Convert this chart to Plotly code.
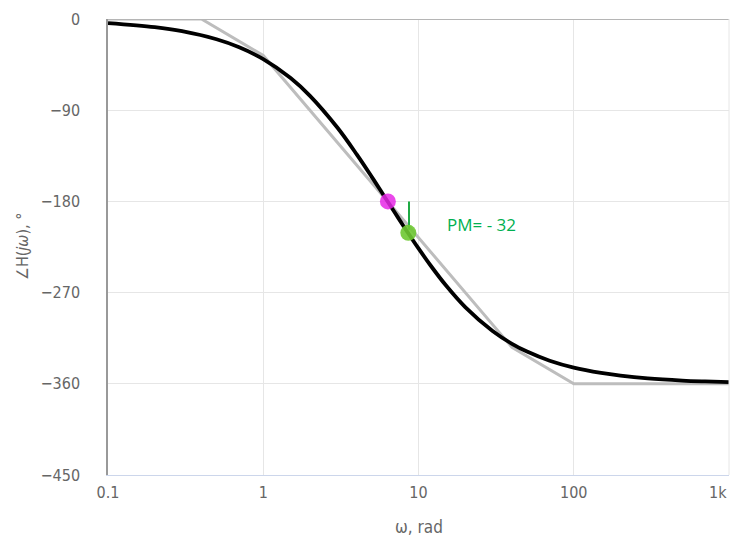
import plotly.graph_objects as go

# Phase response
omega = [0.1, 0.2, 0.3, 0.5, 0.7, 1, 1.5, 2, 3, 4, 5, 6, 7, 8, 10, 12, 15, 20, 30, 40, 50, 70, 100, 150, 200, 300, 500, 700, 1000]
phase = [-4.0, -8.0, -12.0, -20.0, -27.9, -39.5, -58.2, -75.8, -107.1, -133.6, -155.8, -174.6, -190.5, -204.2, -226.4, -243.5, -262.8, -284.3, -307.9, -320.5, -328.2, -337.2, -344.0, -349.3, -352.0, -354.7, -356.8, -357.7, -358.4]

# Straight-line asymptote
asym_omega = [0.1, 0.4, 1, 40, 100, 1000]
asym_phase = [0, 0, -36, -324, -360, -360]

# Markers
phase_cross_w = [6.35]
phase_cross_p = [-180]
gain_cross_w = [8.6]
gain_cross_p = [-211]
pm_label = "PM= - 32"

y_ticks = [0, -90, -180, -270, -360, -450]
y_ticklabels = ["0", "−90", "−180", "−270", "−360", "−450"]
x_ticks = [0.1, 1, 10, 100, 1000]
x_ticklabels = ["0.1", "1", "10", "100", "1k"]

font_family = "Liberation Sans Narrow, DejaVu Sans Condensed, Roboto, sans-serif"

fig = go.Figure()
fig.add_trace(go.Scatter(x=asym_omega, y=asym_phase, mode="lines",
                         line=dict(color="#bdbdbd", width=3), hoverinfo="skip"))
fig.add_trace(go.Scatter(x=omega, y=phase, mode="lines",
                         line=dict(color="#000000", width=3.8, shape="spline"), hoverinfo="skip"))
# PM vertical line
fig.add_trace(go.Scatter(x=[gain_cross_w[0] * 1.01, gain_cross_w[0] * 1.01], y=[phase_cross_p[0], gain_cross_p[0] + 3],
                         mode="lines", line=dict(color="#1faa44", width=2), hoverinfo="skip"))
fig.add_trace(go.Scatter(x=phase_cross_w, y=phase_cross_p, mode="markers",
                         marker=dict(color="rgba(230,40,230,0.85)", size=16, line=dict(width=0)), hoverinfo="skip"))
fig.add_trace(go.Scatter(x=gain_cross_w, y=gain_cross_p, mode="markers",
                         marker=dict(color="rgba(110,200,50,0.9)", size=16, line=dict(width=0)), hoverinfo="skip"))

fig.add_annotation(x=1.17, y=-203, xref="x", yref="y", text=pm_label, showarrow=False,
                   xanchor="left", yanchor="middle",
                   font=dict(family="Open Sans, sans-serif", size=17, color="#00b050"))

# top border line
fig.add_shape(type="line", xref="paper", yref="y", x0=0, x1=1, y0=0, y1=0,
              line=dict(color="#b5b5b5", width=2))

fig.add_annotation(x=-86 / 621, y=0.5, xref="paper", yref="paper",
                   text="∠H(<i>jω</i>), °", textangle=-90, showarrow=False,
                   xanchor="center", yanchor="middle",
                   font=dict(family=font_family, size=16, color="#666666"))

fig.add_annotation(x=0.5, y=-(527 - 475) / 456, xref="paper", yref="paper",
                   text="ω, rad", showarrow=False,
                   xanchor="center", yanchor="middle",
                   font=dict(family=font_family, size=17, color="#666666"))

# last x tick label, right-aligned at the plot edge (as in the reference)
fig.add_annotation(x=1.0, y=-(492 - 475) / 456, xref="paper", yref="paper",
                   text=x_ticklabels[-1], showarrow=False,
                   xanchor="right", yanchor="middle",
                   font=dict(family=font_family, size=16, color="#666666"))

fig.update_layout(
    width=731, height=540,
    margin=dict(l=108, r=2, t=19, b=65),
    paper_bgcolor="white", plot_bgcolor="white",
    showlegend=False,
    font=dict(family=font_family, size=16, color="#666666"),
    xaxis=dict(type="log", range=[-1, 3], tickvals=x_ticks[:-1], ticktext=x_ticklabels[:-1],
               showgrid=True, gridcolor="#e6e6e6", gridwidth=1,
               showline=True, linecolor="#ccd6eb", linewidth=1, mirror=False,
               ticks="", ticklabelstandoff=3, zeroline=False, automargin=False,
               tickfont=dict(family=font_family, size=16, color="#666666")),
    yaxis=dict(range=[-450, 0], tickvals=y_ticks, ticktext=y_ticklabels,
               showgrid=True, gridcolor="#e6e6e6", gridwidth=1,
               showline=True, linecolor="#999999", linewidth=1.5, zeroline=False,
               ticks="", ticklabelstandoff=23, automargin=False,
               tickfont=dict(family=font_family, size=16, color="#666666")),
)
# vertical grid line at 1k (right edge)
fig.add_shape(type="line", xref="paper", yref="paper", x0=1, x1=1, y0=0, y1=1,
              line=dict(color="#e6e6e6", width=1))

fig.write_html("out.html", config={"displayModeBar": False},
               post_script="document.body.style.margin='0';document.body.style.overflow='hidden';")
